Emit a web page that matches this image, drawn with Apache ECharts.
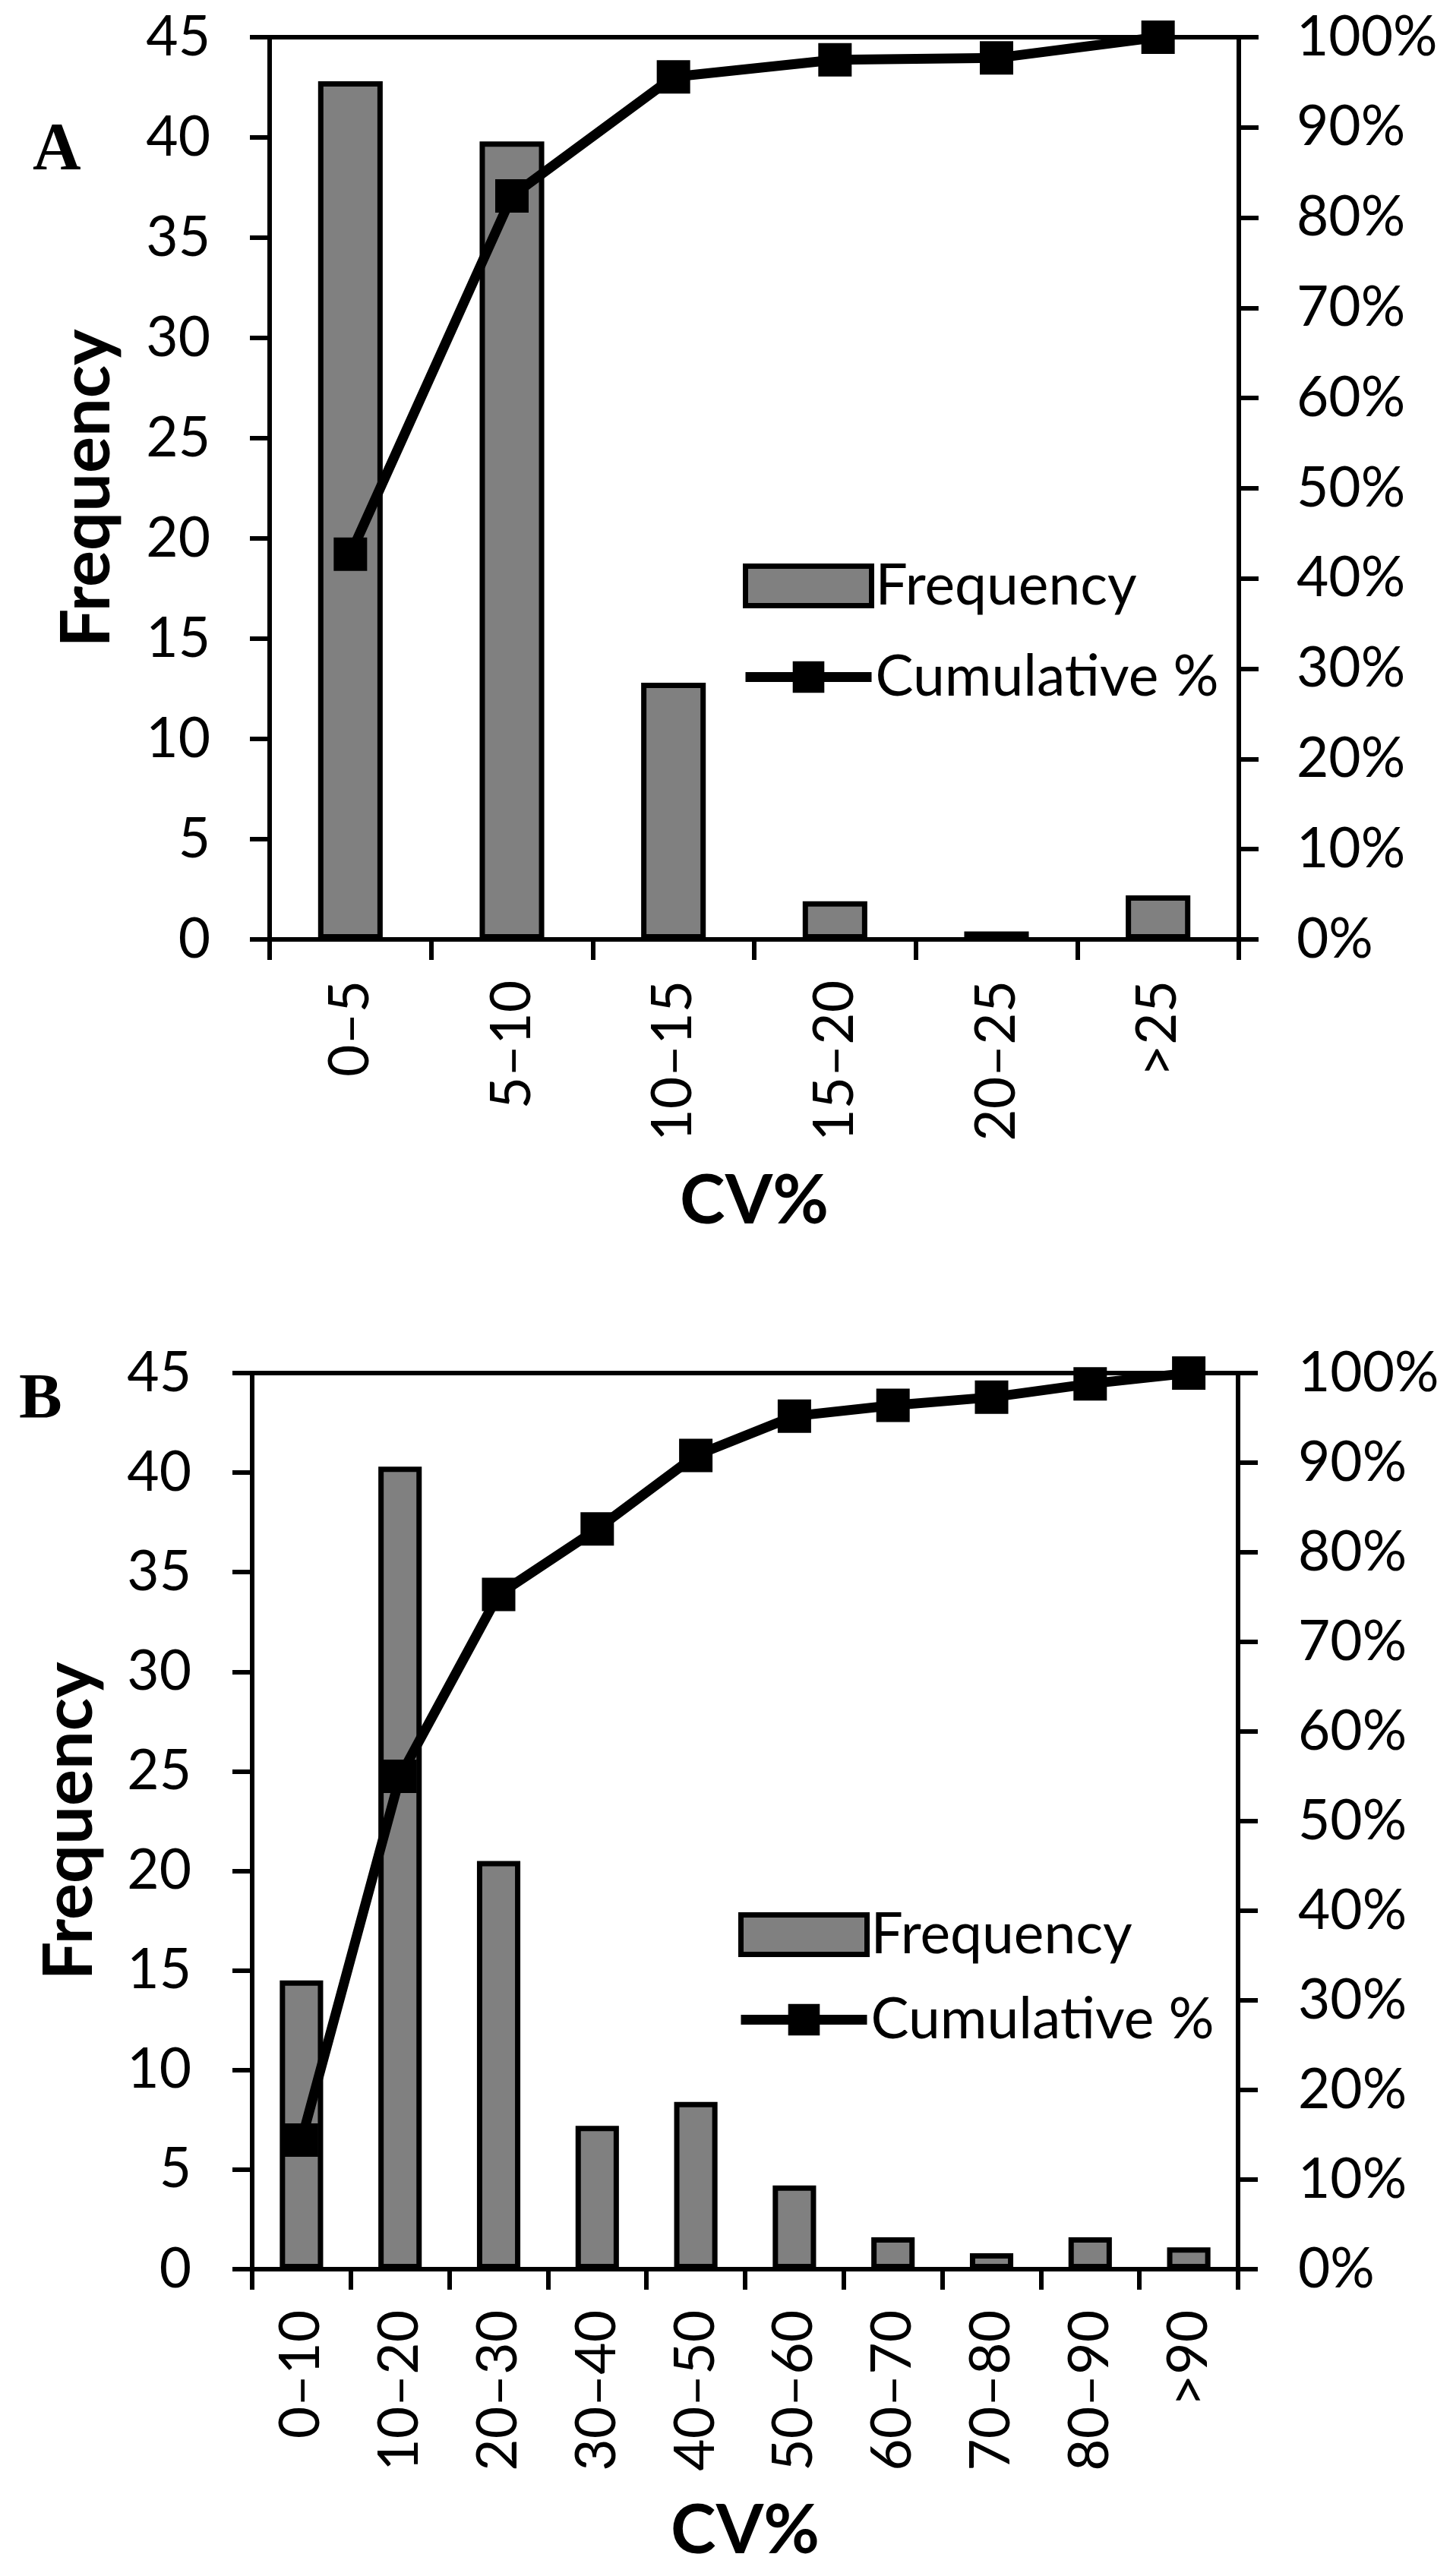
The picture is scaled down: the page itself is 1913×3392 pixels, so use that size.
<!DOCTYPE html>
<html>
<head>
<meta charset="utf-8">
<script src="https://cdn.jsdelivr.net/npm/echarts@6/dist/echarts.min.js"></script>
<style>
  html, body { margin: 0; padding: 0; background: #fff; }
  #chart { width: 1913px; height: 3392px; }
</style>
</head>
<body>
<div id="chart"></div>
<script>
// panel A: CV% in 5-point bins
const categoriesA = ['0–5', '5–10', '10–15', '15–20', '20–25', '>25'];
const frequencyA = [42.8, 39.8, 12.8, 1.9, 0.4, 2.2];
const cumulativeA = [42.7, 82.4, 95.6, 97.5, 97.7, 100];

// panel B: CV% in 10-point bins
const categoriesB = ['0–10', '10–20', '20–30', '30–40', '40–50', '50–60', '60–70', '70–80', '80–90', '>90'];
const frequencyB = [14.5, 40.3, 20.5, 7.2, 8.4, 4.2, 1.6, 0.8, 1.6, 1.1];
const cumulativeB = [14.4, 55.0, 75.3, 82.6, 90.8, 95.2, 96.4, 97.3, 98.8, 100];

const FONT = 'Lato, "Open Sans", sans-serif';
const LINE_W = 6;

const axisLine = { show: true, lineStyle: { color: '#000', width: LINE_W } };
const labelStyle = { color: '#000', fontFamily: FONT, fontSize: 73 };
const titleStyle = { color: '#000', fontFamily: FONT, fontSize: 90, fontWeight: 'bold' };

function leftAxis(gridIndex, margin) {
  return {
    type: 'value', gridIndex, position: 'left',
    min: 0, max: 45, interval: 5,
    axisLine, splitLine: { show: false },
    axisTick: { show: true, length: 26, lineStyle: { color: '#000', width: LINE_W } },
    axisLabel: { ...labelStyle, margin },
    name: 'Frequency', nameLocation: 'middle', nameRotate: 90, nameGap: 195,
    nameTextStyle: titleStyle
  };
}

function rightAxis(gridIndex, margin) {
  return {
    type: 'value', gridIndex, position: 'right',
    min: 0, max: 100, interval: 10,
    axisLine, splitLine: { show: false },
    axisTick: { show: true, length: 26, lineStyle: { color: '#000', width: LINE_W } },
    axisLabel: { ...labelStyle, margin, formatter: '{value}%' }
  };
}

function catAxis(gridIndex, data) {
  return {
    type: 'category', gridIndex, data, boundaryGap: true,
    axisLine,
    axisTick: { show: true, length: 27, interval: 0, lineStyle: { color: '#000', width: LINE_W } },
    axisLabel: { ...labelStyle, rotate: 90, interval: 0, margin: 54 },
    name: 'CV%', nameLocation: 'middle', nameGap: 300,
    nameTextStyle: titleStyle
  };
}

function barSeries(idx, data, width) {
  return {
    name: 'Frequency', type: 'bar', xAxisIndex: idx, yAxisIndex: idx * 2,
    data, barWidth: width,
    itemStyle: { color: '#808080', borderColor: '#000', borderWidth: 7 },
    animation: false
  };
}

function lineSeries(idx, data) {
  return {
    name: 'Cumulative %', type: 'line', xAxisIndex: idx, yAxisIndex: idx * 2 + 1,
    data, symbol: 'rect', symbolSize: 44, z: 5,
    lineStyle: { color: '#000', width: 13 },
    itemStyle: { color: '#000' },
    animation: false
  };
}

function legend(left, top, gap) {
  return {
    show: true, orient: 'vertical', left, top, padding: 0,
    itemWidth: 166, itemHeight: 52, itemGap: gap, itemTextGap: 12,
    textStyle: { ...labelStyle, fontSize: 75 },
    lineStyle: { width: 13, color: '#000' },
    data: [
      { name: 'Frequency', icon: 'rect', itemStyle: { borderWidth: 7, borderColor: '#000' } },
      { name: 'Cumulative %' }
    ],
    selectedMode: false
  };
}

const chart = echarts.init(document.getElementById('chart'), null, { renderer: 'canvas' });

chart.setOption({
  backgroundColor: '#fff',
  animation: false,
  grid: [
    { left: 355, top: 49, width: 1276, height: 1188, show: true, borderColor: '#000', borderWidth: LINE_W, backgroundColor: 'transparent' },
    { left: 332, top: 1808, width: 1298, height: 1180, show: true, borderColor: '#000', borderWidth: LINE_W, backgroundColor: 'transparent' }
  ],
  xAxis: [catAxis(0, categoriesA), catAxis(1, categoriesB)],
  yAxis: [leftAxis(0, 78), rightAxis(0, 76), leftAxis(1, 80), rightAxis(1, 79)],
  legend: [legend(975, 734, 45), legend(969, 2510, 37)],
  series: [
    barSeries(0, frequencyA, '40%'),
    lineSeries(0, cumulativeA),
    barSeries(1, frequencyB, '44%'),
    lineSeries(1, cumulativeB)
  ],
  graphic: [
    { type: 'text', left: 43, top: 155, style: { text: 'A', font: 'bold 88px "Liberation Serif", serif', fill: '#000' } },
    { type: 'text', left: 25, top: 1803, style: { text: 'B', font: 'bold 85px "Liberation Serif", serif', fill: '#000' } }
  ]
});
</script>
</body>
</html>
